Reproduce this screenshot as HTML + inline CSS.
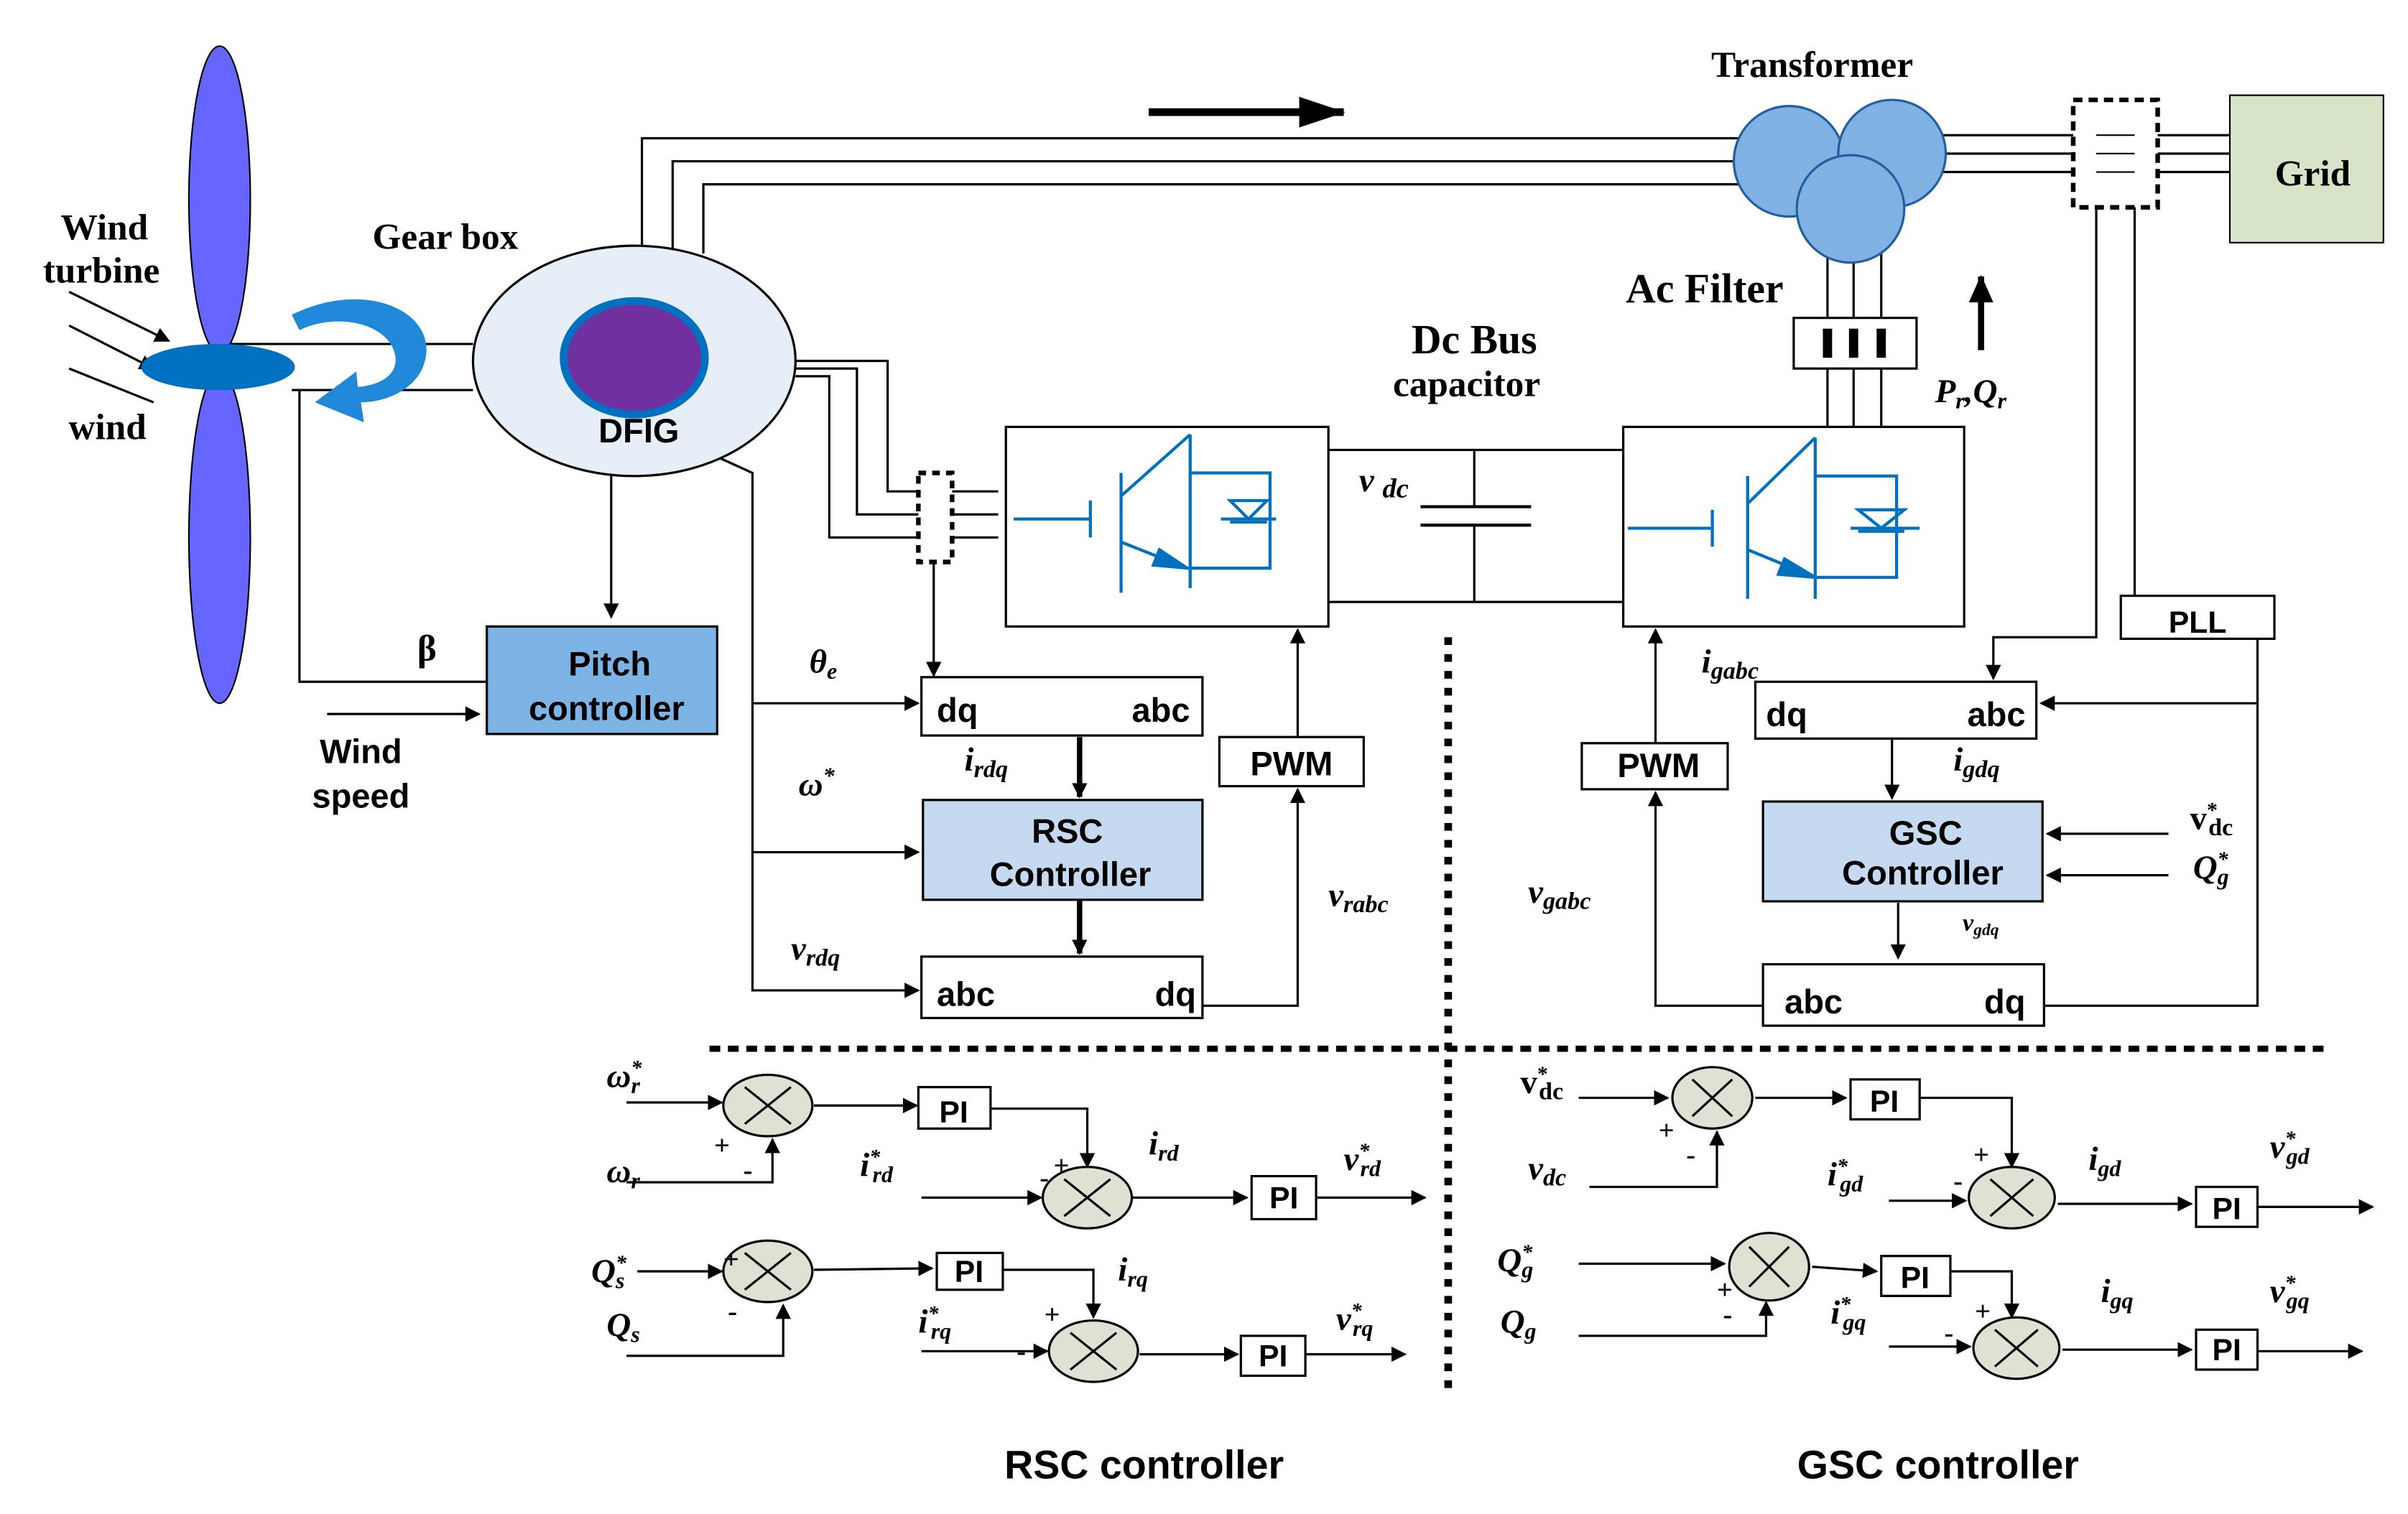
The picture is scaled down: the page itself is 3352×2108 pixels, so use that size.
<!DOCTYPE html>
<html><head><meta charset="utf-8"><style>html,body{margin:0;padding:0;background:#fff}svg{display:block}
.s{font-family:"Liberation Serif",serif;font-weight:bold}
.m{font-family:"Liberation Serif",serif;font-weight:bold;font-style:italic}
.a{font-family:"Liberation Sans",sans-serif;font-weight:bold}
</style></head><body>
<svg width="3352" height="2108" viewBox="0 0 1568 986" xmlns="http://www.w3.org/2000/svg">
<defs><marker id="ar" markerWidth="10" markerHeight="10" refX="9" refY="5" orient="auto" markerUnits="userSpaceOnUse"><path d="M0,0L10,5L0,10z" fill="#000"/></marker>
<marker id="ab" markerWidth="18" markerHeight="16" refX="17" refY="8" orient="auto" markerUnits="userSpaceOnUse"><path d="M0,0L18,8L0,16z" fill="#000"/></marker>
<marker id="abb" markerWidth="30" markerHeight="20" refX="29" refY="10" orient="auto" markerUnits="userSpaceOnUse"><path d="M0,0L30,10L0,20z" fill="#000"/></marker></defs>
<g stroke="#000" stroke-width="1.5" fill="none">
<line x1="143" y1="224" x2="308" y2="224"/><line x1="190" y1="254" x2="308" y2="254"/>
<line x1="45" y1="190" x2="110" y2="222" marker-end="url(#ar)"/><line x1="45" y1="212" x2="100" y2="240" marker-end="url(#ar)"/><line x1="45" y1="240" x2="100" y2="262"/>
<polyline points="418,165 418,90 1140,90"/><polyline points="438,165 438,105 1135,105"/><polyline points="458,165 458,120 1140,120"/>
<line x1="1260" y1="88" x2="1452" y2="88"/><line x1="1265" y1="100" x2="1452" y2="100"/><line x1="1265" y1="112" x2="1452" y2="112"/>
<line x1="748" y1="73" x2="875" y2="73" stroke-width="5" marker-end="url(#abb)"/>
<polyline points="518,235 578,235 578,320 650,320"/><polyline points="518,240 558,240 558,335 650,335"/><polyline points="518,245 540,245 540,350 650,350"/>
<line x1="608" y1="365" x2="608" y2="440" marker-end="url(#ar)"/>
<line x1="1190" y1="160" x2="1190" y2="278"/><line x1="1207" y1="165" x2="1207" y2="278"/><line x1="1225" y1="160" x2="1225" y2="278"/>
<line x1="1290" y1="228" x2="1290" y2="180" stroke-width="4" marker-end="url(#ab)"/>
<line x1="865" y1="293" x2="1057" y2="293"/><line x1="865" y1="392" x2="1057" y2="392"/>
<line x1="960" y1="293" x2="960" y2="330"/><line x1="960" y1="342" x2="960" y2="392"/>
<line x1="925" y1="330" x2="997" y2="330" stroke-width="2"/><line x1="925" y1="342" x2="997" y2="342" stroke-width="2"/>
<line x1="398" y1="310" x2="398" y2="402" marker-end="url(#ar)"/>
<polyline points="195,254 195,444 317,444"/>
<line x1="213" y1="465" x2="312" y2="465" marker-end="url(#ar)"/>
<polyline points="468,298 490,308 490,645 598,645" marker-end="url(#ar)"/>
<line x1="490" y1="458" x2="598" y2="458" marker-end="url(#ar)"/>
<line x1="490" y1="555" x2="598" y2="555" marker-end="url(#ar)"/>
<line x1="735" y1="466" x2="670" y2="466" marker-end="url(#ar)"/>
<line x1="703" y1="480" x2="703" y2="519" stroke-width="3.5" marker-end="url(#ar)"/>
<line x1="703" y1="586" x2="703" y2="621" stroke-width="3.5" marker-end="url(#ar)"/>
<line x1="745" y1="656" x2="680" y2="656" marker-end="url(#ar)"/>
<polyline points="783,655 845,655 845,514" marker-end="url(#ar)"/>
<line x1="845" y1="480" x2="845" y2="410" marker-end="url(#ar)"/>
<polyline points="1365,135 1365,415 1298,415 1298,442" marker-end="url(#ar)"/>
<line x1="1390" y1="112" x2="1390" y2="388"/>
<polyline points="1470,416 1470,655 1331,655"/>
<line x1="1470" y1="458" x2="1329" y2="458" marker-end="url(#ar)"/>
<line x1="1250" y1="468" x2="1215" y2="468" stroke-width="4" marker-end="url(#ar)"/>
<line x1="1232" y1="481" x2="1232" y2="520" marker-end="url(#ar)"/>
<line x1="1236" y1="588" x2="1236" y2="624" marker-end="url(#ar)"/>
<line x1="1282" y1="658" x2="1220" y2="658" marker-end="url(#ar)"/>
<line x1="1412" y1="543" x2="1333" y2="543" marker-end="url(#ar)"/>
<line x1="1412" y1="570" x2="1333" y2="570" marker-end="url(#ar)"/>
<polyline points="1148,655 1078,655 1078,516" marker-end="url(#ar)"/>
<line x1="1078" y1="484" x2="1078" y2="410" marker-end="url(#ar)"/>
<line x1="943" y1="415" x2="943" y2="910" stroke-width="5" stroke-dasharray="5,6"/>
<line x1="462" y1="683" x2="1518" y2="683" stroke-width="4" stroke-dasharray="7,5"/>
<line x1="408" y1="718" x2="470" y2="718" marker-end="url(#ar)"/><polyline points="408,770 503,770 503,742" marker-end="url(#ar)"/>
<line x1="530" y1="720" x2="597" y2="720" marker-end="url(#ar)"/><polyline points="645,722 708,722 708,760" marker-end="url(#ar)"/>
<line x1="600" y1="780" x2="678" y2="780" marker-end="url(#ar)"/><line x1="737" y1="780" x2="812" y2="780" marker-end="url(#ar)"/><line x1="857" y1="780" x2="928" y2="780" marker-end="url(#ar)"/>
<line x1="415" y1="828" x2="470" y2="828" marker-end="url(#ar)"/><polyline points="408,883 510,883 510,850" marker-end="url(#ar)"/>
<line x1="530" y1="827" x2="607" y2="826" marker-end="url(#ar)"/><polyline points="653,827 712,827 712,858" marker-end="url(#ar)"/>
<line x1="600" y1="880" x2="682" y2="880" marker-end="url(#ar)"/><line x1="742" y1="882" x2="806" y2="882" marker-end="url(#ar)"/><line x1="850" y1="882" x2="915" y2="882" marker-end="url(#ar)"/>
<line x1="1028" y1="715" x2="1086" y2="715" marker-end="url(#ar)"/><polyline points="1035,773 1118,773 1118,737" marker-end="url(#ar)"/>
<line x1="1143" y1="715" x2="1202" y2="715" marker-end="url(#ar)"/><polyline points="1250,715 1310,715 1310,760" marker-end="url(#ar)"/>
<line x1="1230" y1="782" x2="1280" y2="782" marker-end="url(#ar)"/><line x1="1340" y1="784" x2="1427" y2="784" marker-end="url(#ar)"/><line x1="1470" y1="786" x2="1545" y2="786" marker-end="url(#ar)"/>
<line x1="1028" y1="823" x2="1123" y2="823" marker-end="url(#ar)"/><polyline points="1028,870 1150,870 1150,848" marker-end="url(#ar)"/>
<line x1="1180" y1="825" x2="1222" y2="828" marker-end="url(#ar)"/><polyline points="1270,828 1310,828 1310,858" marker-end="url(#ar)"/>
<line x1="1230" y1="877" x2="1283" y2="877" marker-end="url(#ar)"/><line x1="1343" y1="879" x2="1427" y2="879" marker-end="url(#ar)"/><line x1="1470" y1="880" x2="1538" y2="880" marker-end="url(#ar)"/>
</g>
<ellipse cx="143" cy="130" rx="20" ry="100" fill="#6666ff" stroke="#000"/>
<ellipse cx="143" cy="350" rx="20" ry="108" fill="#6666ff" stroke="#000"/>
<ellipse cx="142" cy="239" rx="50" ry="15" fill="#0070c0"/>
<path d="M190,205 C240,180 290,205 275,240 C268,255 250,262 235,262 L237,275 L205,262 L232,242 L233,252 C255,250 262,238 255,225 C245,208 215,205 195,215Z" fill="#1f88d8"/>
<ellipse cx="413" cy="235" rx="105" ry="75" fill="#e6eef8" stroke="#000" stroke-width="1.5"/>
<ellipse cx="413" cy="233" rx="46" ry="37" fill="#7030a0" stroke="#0070c0" stroke-width="5"/>
<g fill="#7fb2e2" stroke="#2060a0" stroke-width="1.5"><circle cx="1165" cy="105" r="36"/><circle cx="1232" cy="100" r="35"/><circle cx="1205" cy="136" r="35"/></g>
<rect x="1350" y="65" width="55" height="70" fill="#fff" stroke="#000" stroke-width="3" stroke-dasharray="6,4"/>
<line x1="1365" y1="88" x2="1390" y2="88" stroke="#000"/><line x1="1365" y1="100" x2="1390" y2="100" stroke="#000"/><line x1="1365" y1="112" x2="1390" y2="112" stroke="#000"/>
<rect x="1452" y="62" width="100" height="96" fill="#d8e4c8" stroke="#000"/>
<rect x="598" y="308" width="22" height="58" fill="#fff" stroke="#000" stroke-width="3" stroke-dasharray="5,4"/>
<rect x="1168" y="207" width="80" height="33" fill="#fff" stroke="#000" stroke-width="1.5"/>
<g stroke="#000" stroke-width="6"><line x1="1190" y1="214" x2="1190" y2="233"/><line x1="1207" y1="214" x2="1207" y2="233"/><line x1="1225" y1="214" x2="1225" y2="233"/></g>
<g fill="#fff" stroke="#000" stroke-width="1.5"><rect x="655" y="278" width="210" height="130"/><rect x="1057" y="278" width="222" height="130"/></g>
<g stroke="#0070c0" stroke-width="2" fill="none">
<g transform="translate(655,278)"><line x1="5" y1="60" x2="55" y2="60"/><line x1="55" y1="48" x2="55" y2="72"/><line x1="75" y1="30" x2="75" y2="108"/><polyline points="75,45 120,5"/><polyline points="75,75 118,92"/><polyline points="120,5 120,105"/><polyline points="120,30 172,30 172,92 118,92"/><line x1="140" y1="60" x2="176" y2="60"/><path d="M146,48 L170,48 L158,60Z"/><line x1="146" y1="62" x2="170" y2="62"/><path d="M100,80 L118,92 L96,90Z" fill="#0070c0"/></g>
<g transform="translate(1060,280)"><line x1="0" y1="64" x2="55" y2="64"/><line x1="55" y1="52" x2="55" y2="76"/><line x1="78" y1="30" x2="78" y2="110"/><polyline points="78,48 122,5"/><polyline points="78,78 122,96"/><line x1="122" y1="5" x2="122" y2="110"/><polyline points="122,30 175,30 175,96 122,96"/><line x1="145" y1="64" x2="190" y2="64"/><path d="M150,52 L180,52 L165,64Z"/><line x1="150" y1="66" x2="180" y2="66"/><path d="M102,84 L122,96 L98,94Z" fill="#0070c0"/></g>
</g>
<g stroke="#000" stroke-width="1.5">
<rect x="317" y="408" width="150" height="70" fill="#7db4e6"/>
<rect x="600" y="441" width="183" height="38" fill="#fff"/>
<rect x="601" y="521" width="182" height="65" fill="#c5d9f1"/>
<rect x="600" y="623" width="183" height="40" fill="#fff"/>
<rect x="794" y="480" width="94" height="32" fill="#fff"/>
<rect x="1381" y="388" width="100" height="28" fill="#fff"/>
<rect x="1143" y="444" width="183" height="37" fill="#fff"/>
<rect x="1148" y="522" width="182" height="65" fill="#c5d9f1"/>
<rect x="1148" y="628" width="183" height="40" fill="#fff"/>
<rect x="1030" y="484" width="95" height="30" fill="#fff"/>
<rect x="598" y="708" width="47" height="27" fill="#fff"/><rect x="815" y="766" width="42" height="28" fill="#fff"/>
<rect x="610" y="816" width="43" height="24" fill="#fff"/><rect x="808" y="870" width="42" height="26" fill="#fff"/>
<rect x="1205" y="703" width="45" height="26" fill="#fff"/><rect x="1430" y="773" width="40" height="26" fill="#fff"/>
<rect x="1225" y="818" width="45" height="26" fill="#fff"/><rect x="1430" y="866" width="40" height="26" fill="#fff"/>
</g>
<g fill="#dde2d2" stroke="#000" stroke-width="1.5">
<g transform="translate(500,720)"><ellipse rx="29" ry="20"/><path d="M-15,-12L15,12M15,-12L-15,12" fill="none"/></g>
<g transform="translate(708,780)"><ellipse rx="29" ry="20"/><path d="M-15,-12L15,12M15,-12L-15,12" fill="none"/></g>
<g transform="translate(500,828)"><ellipse rx="29" ry="20"/><path d="M-15,-12L15,12M15,-12L-15,12" fill="none"/></g>
<g transform="translate(712,880)"><ellipse rx="29" ry="20"/><path d="M-15,-12L15,12M15,-12L-15,12" fill="none"/></g>
<g transform="translate(1115,715)"><ellipse rx="26" ry="20"/><path d="M-13,-12L13,12M13,-12L-13,12" fill="none"/></g>
<g transform="translate(1310,780)"><ellipse rx="28" ry="20"/><path d="M-14,-12L14,12M14,-12L-14,12" fill="none"/></g>
<g transform="translate(1152,825)"><ellipse rx="26" ry="22"/><path d="M-13,-13L13,13M13,-13L-13,13" fill="none"/></g>
<g transform="translate(1313,878)"><ellipse rx="28" ry="20"/><path d="M-14,-12L14,12M14,-12L-14,12" fill="none"/></g>
</g>
<g class="s" font-size="24">
<text x="68" y="156" text-anchor="middle">Wind</text><text x="66" y="184" text-anchor="middle">turbine</text><text x="70" y="286" text-anchor="middle">wind</text>
<text x="290" y="162" text-anchor="middle">Gear box</text><text x="1180" y="50" text-anchor="middle">Transformer</text>
<text x="1110" y="197" text-anchor="middle" font-size="27">Ac Filter</text><text x="960" y="230" text-anchor="middle" font-size="27">Dc Bus</text><text x="955" y="258" text-anchor="middle">capacitor</text>
<text x="278" y="430" text-anchor="middle">β</text>
</g>
<g class="a" font-size="22">
<text x="416" y="288" text-anchor="middle">DFIG</text><text x="1506" y="121" text-anchor="middle" class="s" font-size="24">Grid</text>
<text x="397" y="440" text-anchor="middle">Pitch</text><text x="395" y="469" text-anchor="middle">controller</text>
<text x="235" y="497" text-anchor="middle">Wind</text><text x="235" y="526" text-anchor="middle">speed</text>
<text x="610" y="470">dq</text><text x="737" y="470">abc</text>
<text x="695" y="549" text-anchor="middle">RSC</text><text x="697" y="577" text-anchor="middle">Controller</text>
<text x="610" y="655">abc</text><text x="752" y="655">dq</text>
<text x="841" y="505" text-anchor="middle">PWM</text><text x="1431" y="412" text-anchor="middle" font-size="20">PLL</text>
<text x="1150" y="473">dq</text><text x="1281" y="473">abc</text>
<text x="1254" y="550" text-anchor="middle">GSC</text><text x="1252" y="576" text-anchor="middle">Controller</text>
<text x="1162" y="660">abc</text><text x="1292" y="660">dq</text><text x="1080" y="506" text-anchor="middle">PWM</text>
<g font-size="20"><text x="621" y="731" text-anchor="middle">PI</text><text x="836" y="787" text-anchor="middle">PI</text><text x="631" y="835" text-anchor="middle">PI</text><text x="829" y="890" text-anchor="middle">PI</text>
<text x="1227" y="724" text-anchor="middle">PI</text><text x="1450" y="794" text-anchor="middle">PI</text><text x="1247" y="839" text-anchor="middle">PI</text><text x="1450" y="886" text-anchor="middle">PI</text></g>
<text x="745" y="963" text-anchor="middle" font-size="26">RSC controller</text><text x="1262" y="963" text-anchor="middle" font-size="26">GSC controller</text>
</g>
<g class="m" font-size="22">
<text x="885" y="320">v <tspan font-size="18" dy="4">dc</tspan></text>
<text x="1260" y="262">P<tspan font-size="15" dy="4">r</tspan><tspan dy="-4">,Q</tspan><tspan font-size="15" dy="4">r</tspan></text>
<text x="527" y="438">θ<tspan font-size="15" dy="4">e</tspan></text>
<text x="520" y="518">ω<tspan font-size="15" dy="-8">*</tspan></text>
<text x="628" y="502">i<tspan font-size="16" dy="4">rdq</tspan></text>
<text x="515" y="625">v<tspan font-size="16" dy="4">rdq</tspan></text>
<text x="865" y="590">v<tspan font-size="16" dy="4">rabc</tspan></text>
<text x="1108" y="438">i<tspan font-size="16" dy="4">gabc</tspan></text>
<text x="1272" y="502">i<tspan font-size="16" dy="4">gdq</tspan></text>
<text x="995" y="588">v<tspan font-size="16" dy="4">gabc</tspan></text>
<text x="1278" y="606" font-size="16">v<tspan font-size="11" dy="3">gdq</tspan></text>
<text x="1426" y="540" font-style="normal">v<tspan font-size="14" dy="-8">*</tspan><tspan font-size="16" dx="-6" dy="12">dc</tspan></text>
<text x="1428" y="572">Q<tspan font-size="14" dy="-8">*</tspan><tspan font-size="15" dx="-7" dy="12">g</tspan></text>
<text x="395" y="708">ω<tspan font-size="14" dy="-8">*</tspan><tspan font-size="15" dx="-7" dy="12">r</tspan></text>
<text x="395" y="770">ω<tspan font-size="15" dy="4">r</tspan></text>
<text x="560" y="766">i<tspan font-size="14" dy="-8">*</tspan><tspan font-size="15" dx="-5" dy="12">rd</tspan></text>
<text x="748" y="752">i<tspan font-size="15" dy="4">rd</tspan></text>
<text x="875" y="762">v<tspan font-size="14" dy="-8">*</tspan><tspan font-size="15" dx="-6" dy="12">rd</tspan></text>
<text x="385" y="835">Q<tspan font-size="14" dy="-8">*</tspan><tspan font-size="15" dx="-7" dy="12">s</tspan></text>
<text x="395" y="870">Q<tspan font-size="15" dy="4">s</tspan></text>
<text x="728" y="834">i<tspan font-size="15" dy="4">rq</tspan></text>
<text x="598" y="868">i<tspan font-size="14" dy="-8">*</tspan><tspan font-size="15" dx="-5" dy="12">rq</tspan></text>
<text x="870" y="866">v<tspan font-size="14" dy="-8">*</tspan><tspan font-size="15" dx="-6" dy="12">rq</tspan></text>
<text x="990" y="712" font-style="normal">v<tspan font-size="14" dy="-8">*</tspan><tspan font-size="16" dx="-6" dy="12">dc</tspan></text>
<text x="995" y="768">v<tspan font-size="16" dy="4">dc</tspan></text>
<text x="1190" y="772">i<tspan font-size="14" dy="-8">*</tspan><tspan font-size="15" dx="-5" dy="12">gd</tspan></text>
<text x="1360" y="762">i<tspan font-size="15" dy="4">gd</tspan></text>
<text x="1478" y="754">v<tspan font-size="14" dy="-8">*</tspan><tspan font-size="15" dx="-6" dy="12">gd</tspan></text>
<text x="975" y="828">Q<tspan font-size="14" dy="-8">*</tspan><tspan font-size="15" dx="-7" dy="12">g</tspan></text>
<text x="977" y="868">Q<tspan font-size="15" dy="4">g</tspan></text>
<text x="1192" y="862">i<tspan font-size="14" dy="-8">*</tspan><tspan font-size="15" dx="-5" dy="12">gq</tspan></text>
<text x="1368" y="848">i<tspan font-size="15" dy="4">gq</tspan></text>
<text x="1478" y="848">v<tspan font-size="14" dy="-8">*</tspan><tspan font-size="15" dx="-6" dy="12">gq</tspan></text>
</g>
<g class="s" font-size="18">
<text x="465" y="752">+</text><text x="484" y="768">-</text><text x="686" y="765">+</text><text x="677" y="773">-</text>
<text x="471" y="826">+</text><text x="474" y="860">-</text><text x="680" y="862">+</text><text x="662" y="886">-</text>
<text x="1080" y="742">+</text><text x="1098" y="758">-</text><text x="1285" y="758">+</text><text x="1272" y="775">-</text>
<text x="1118" y="846">+</text><text x="1122" y="862">-</text><text x="1286" y="860">+</text><text x="1266" y="874">-</text>
</g>
</svg>
</body></html>
